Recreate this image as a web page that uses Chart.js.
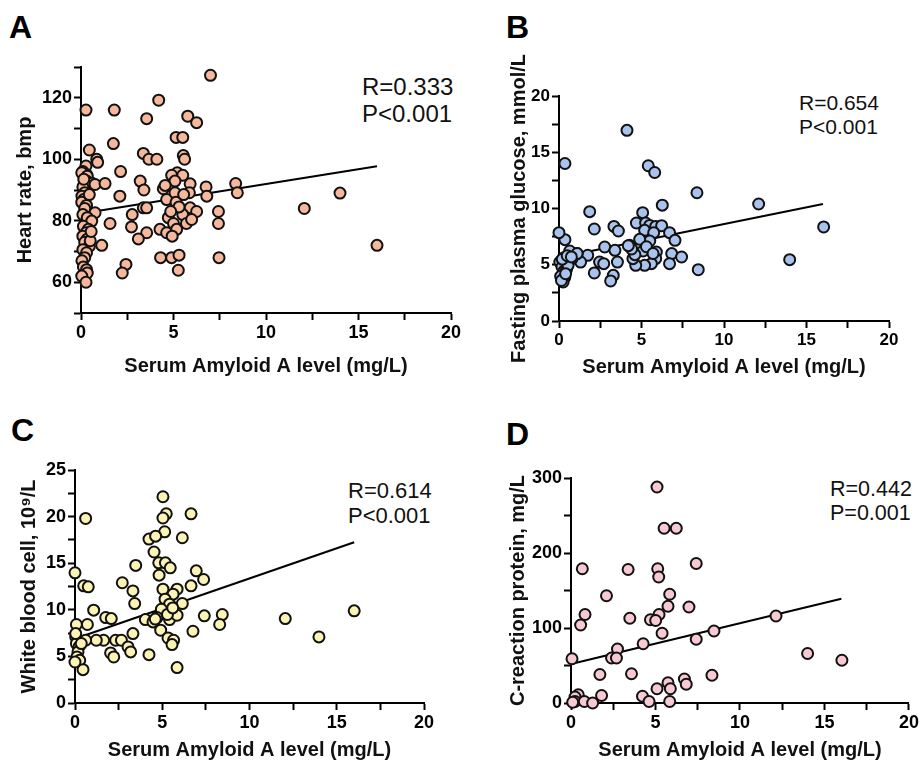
<!DOCTYPE html>
<html>
<head>
<meta charset="utf-8">
<script src="https://cdn.jsdelivr.net/npm/chart.js@4"></script>
<style>
  html, body { margin: 0; padding: 0; background: #fff; }
  body { width: 921px; height: 762px; position: relative; overflow: hidden; font-family: 'Liberation Sans', Arial, sans-serif; }
  .panel { position: absolute; }
  .letter { position: absolute; font-size: 32px; font-weight: bold; line-height: 32px; color: #000; }
  .stat { position: absolute; color: #111; white-space: nowrap; }
</style>
</head>
<body>

<div class="letter" style="left:9px;top:11px">A</div>
<div class="letter" style="left:506px;top:11px">B</div>
<div class="letter" style="left:11px;top:414px">C</div>
<div class="letter" style="left:506px;top:418px">D</div>

<div class="stat" style="left:362px;top:73px;font-size:24px;line-height:27px">R=0.333<br>P&lt;0.001</div>
<div class="stat" style="left:799px;top:91px;font-size:21px;line-height:24px">R=0.654<br>P&lt;0.001</div>
<div class="stat" style="left:348px;top:478px;font-size:22px;line-height:25px">R=0.614<br>P&lt;0.001</div>
<div class="stat" style="left:830px;top:477px;font-size:21.5px;line-height:24px">R=0.442<br>P=0.001</div>

<div class="panel" style="left:0;top:50px"><canvas id="chartA" width="470" height="330"></canvas></div>
<div class="panel" style="left:480px;top:50px"><canvas id="chartB" width="441" height="330"></canvas></div>
<div class="panel" style="left:0;top:450px"><canvas id="chartC" width="470" height="312"></canvas></div>
<div class="panel" style="left:480px;top:450px"><canvas id="chartD" width="441" height="312"></canvas></div>

<script>
// ── data ──
const xLabel = 'Serum Amyloid A level (mg/L)';

// A: heart rate
const saaA = [0.27,0.45,0.85,0.9,0.27,0.1,0.3,0.04,0.34,0.3,0.6,0.76,0.1,0.2,0.05,0.15,0.04,0.3,0.2,0.76,0.1,0.34,0.58,0.13,0.4,0.27,0.1,0.34,0.2,0.45,0.1,0.3,0.2,0.05,0.13,0.3,0.34,0.04,0.27,0.5,0.55,0.15,0.45,
  7.0,4.2,1.8,3.55,5.77,6.25,5.14,5.5,1.75,3.37,3.67,4.1,5.53,5.6,2.14,5.2,4.9,5.5,1.3,3.2,3.4,5.08,5.9,6.76,6.8,8.36,8.45,4.45,4.63,5.08,5.86,2.1,3.37,3.55,5.14,5.9,6.25,7.43,7.43,5.5,5.7,5.98,4.72,5.0,5.17,4.27,4.63,4.93,2.77,2.73,1.57,3.55,3.1,1.12,16,12.07,14,4.3,4.9,5.3,5.26,7.46,2.43,2.23,4.55,5.3,4.85,5.55];
const hrA = [116,103,100,99,97.8,96,95,95.6,94.5,92.9,92.2,91.8,91,89.1,88,86.9,86,85,84,82.6,82,81,79.9,78.2,77.2,76.1,75,74,73,71.7,70.6,69.6,68,67,65,64.1,63,62,60,73.5,76.5,93.5,88.5,
  127.3,119.2,116,113.2,114,111.9,107.1,107.1,105.1,101.9,100,100,101.2,100,96,95.6,94.8,94.8,92.1,92.9,90,92.9,92,91,88,92.1,89.1,90.4,86.9,89.1,89.1,88,84.2,84.2,86,84.2,83,83,79.1,82,79.1,80.4,81,79.1,77.2,77.2,76.1,75,82,78,79.1,76.1,74.1,72,72,84,89,68,68,68.8,63.9,68,65.8,63,91.5,84.5,83,88.5];
const fitXA = [0.2, 16];
const fitYA = [82.5, 97.7];

// B: fasting plasma glucose
const saaB = [4.12,0.36,5.41,5.8,8.36,12.1,16.04,13.98,8.44,6.26,5.07,1.86,2.14,3.33,3.6,4.69,5.25,5.5,5.86,6.22,5.19,5.74,6.7,7.03,5.5,4.89,4.28,2.77,3.39,3.54,5.09,5.9,6.83,7.43,5.86,6.7,5.6,5.19,4.65,4.48,4.6,5.3,2.46,2.71,2.14,3.29,3.13,1.74,1.31,1.09,0.79,0.65,0.36,0.0,0.3,0.05,0.18,0.3,0.1,0.35,0.25,0.45,0.55,0.15,0.4,0.2,0.5,4.4,5.7,4.2,1.1,0.75];
const fpgB = [16.95,14,13.8,13.2,11.4,10.4,8.36,5.45,4.56,10.3,9.63,9.72,8.18,8.41,8,8.71,8.71,8.5,8.41,8.47,8.06,7.85,7.85,7.17,7.11,7.26,6.73,6.58,6.28,5.24,6.22,6.13,5.99,5.69,5.54,5.1,5.1,4.95,4.95,5.54,5.9,6.6,5.24,5.1,4.27,4.06,3.56,5.84,5.24,5.99,5.54,6.22,7.23,7.85,5.63,5.24,4.8,4.44,3.97,3.9,3.47,4.56,4.95,3.6,4.2,5.5,5.8,6.4,6.0,6.7,6.0,5.7];
const fitXB = [0, 16];
const fitYB = [5.65, 10.4];

// C: white blood cell
const saaC = [5.04,0.61,5.23,5.04,6.65,5.14,4.24,4.62,6.15,4.53,3.48,4.8,5.18,5.46,4.82,6.95,7.37,0,0.5,0.76,2.71,3.32,5.04,5.85,6.65,5.62,5.16,5.42,6.15,3.42,1.07,4.95,1.76,2.08,4.03,4.47,4.7,5.42,5.85,7.41,8.44,8.29,6.76,4.91,5.33,5.65,5.56,5.85,4.24,3.32,2.33,2.66,1.64,1.22,3.04,3.19,2.04,2.22,0.71,0.08,0.04,0.08,0.23,0.17,0.11,0.27,0.46,0,0.04,0.61,0.36,12.05,13.98,16,5.3,5.6,4.6];
const wbcC = [22.13,19.8,20.3,19.85,20.3,18.37,17.59,17.9,17.73,16.2,14.76,15.04,15.04,14.5,13.72,14.18,13.25,13.97,12.57,12.46,12.9,12.03,12.21,12.21,12.57,11.68,11.14,10.6,10.67,10.67,9.96,10.06,9.17,9.06,8.95,8.7,9.17,8.95,9.42,9.35,9.49,8.42,7.7,7.81,6.98,6.73,6.27,3.8,5.19,7.45,6.73,6.73,6.73,6.73,6.02,5.48,5.37,4.94,8.42,8.42,7.09,6.38,6.02,5.48,4.94,4.58,3.58,4.4,7.45,6.73,6.38,9.06,7.09,9.89,9.5,10.2,9.0];
const fitXC = [0, 16];
const fitYC = [6.9, 17.25];

// D: C-reaction protein
const saaD = [5.09,5.51,6.23,7.41,0.67,3.38,5.13,5.19,2.1,5.84,5.74,6.98,0.83,5.21,0.57,3.48,4.7,5.01,5.39,8.46,12.13,7.41,4.27,2.75,2.4,2.69,0.06,14.0,16.03,3.58,1.71,8.34,6.71,6.82,5.74,5.88,5.09,1.81,4.23,4.62,5.84,0.43,0.24,0.24,0.79,1.28,0.1];
const crpD = [288,233,233,186,179,178,179,168,143,145,129,128,118,118,104,113,111,110,93,96,116,85,79,72,60,60,59,66,57,39,38,37,32,25,27,19,19,10,9,2,2,11,8,2,2,0,1];
const fitXD = [0, 16];
const fitYD = [52, 139];

const toPts = (xs, ys) => xs.map((x, i) => ({ x, y: ys[i] }));

function makePanel(id, o) {
  const font = { family: "'Liberation Sans', Arial, sans-serif", weight: 'bold' };
  const axisGrid = { drawOnChartArea: false, drawTicks: true, tickLength: 7, tickWidth: 2, tickColor: '#000', color: '#000' };
  return new Chart(document.getElementById(id), {
    type: 'scatter',
    data: {
      datasets: [
        {
          data: toPts(o.xs, o.ys),
          backgroundColor: o.fill,
          borderColor: '#111',
          borderWidth: 2,
          pointRadius: 5.5,
          pointHoverRadius: 5.5,
          clip: false,
          order: 0
        },
        {
          data: toPts(o.fitX, o.fitY),
          showLine: true,
          borderColor: '#000',
          borderWidth: 2,
          pointRadius: 0,
          clip: false,
          order: 1
        }
      ]
    },
    options: {
      responsive: false,
      animation: false,
      devicePixelRatio: 1,
      layout: { padding: { top: o.padTop, right: o.padRight, left: 0, bottom: 0 } },
      plugins: { legend: { display: false }, tooltip: { enabled: false } },
      scales: {
        x: {
          min: 0, max: 20,
          afterFit: s => { s.height = o.xH; },
          grid: axisGrid,
          border: { display: true, color: '#000', width: 2 },
          ticks: {
            stepSize: 2.5, autoSkip: false, maxRotation: 0, padding: 2, color: '#000',
            font: { ...font, size: o.tickSize },
            callback: v => (v % 5 === 0 ? v : '')
          },
          title: { display: true, text: xLabel, color: '#111', font: { ...font, size: 20 }, padding: { top: 0, bottom: o.xTitlePad } }
        },
        y: {
          min: o.yMin, max: o.yMax,
          afterFit: s => { s.width = o.yW; },
          grid: axisGrid,
          border: { display: true, color: '#000', width: 2 },
          ticks: {
            stepSize: o.yStep, autoSkip: false, padding: 2, color: '#000',
            font: { ...font, size: o.tickSize },
            callback: v => (v % o.yLabelEvery === 0 ? v : '')
          },
          title: { display: true, text: o.yTitle, color: '#111', font: { ...font, size: 20 }, padding: { top: o.yTitlePad, bottom: 0 } }
        }
      }
    }
  });
}

makePanel('chartA', {
  xs: saaA, ys: hrA, fitX: fitXA, fitY: fitYA, fill: '#F5B89C', tickSize: 18,
  yMin: 50, yMax: 130, yStep: 10, yLabelEvery: 20, yTitle: 'Heart rate, bmp',
  padTop: 17, padRight: 19, yW: 81, xH: 67, xTitlePad: 2, yTitlePad: 13
});
makePanel('chartB', {
  xs: saaB, ys: fpgB, fitX: fitXB, fitY: fitYB, fill: '#A9C3EC', tickSize: 17,
  yMin: 0, yMax: 20, yStep: 2.5, yLabelEvery: 5, yTitle: 'Fasting plasma glucose, mmol/L',
  padTop: 46, padRight: 32, yW: 79, xH: 59, xTitlePad: 1, yTitlePad: 27
});
makePanel('chartC', {
  xs: saaC, ys: wbcC, fitX: fitXC, fitY: fitYC, fill: '#FBF4B4', tickSize: 18,
  yMin: 0, yMax: 25, yStep: 2.5, yLabelEvery: 5, yTitle: 'White blood cell, 10\u2079/L',
  padTop: 20, padRight: 46, yW: 75, xH: 59, xTitlePad: 0, yTitlePad: 17
});
makePanel('chartD', {
  xs: saaD, ys: crpD, fitX: fitXD, fitY: fitYD, fill: '#F7C9D2', tickSize: 18,
  yMin: 0, yMax: 300, yStep: 50, yLabelEvery: 100, yTitle: 'C-reaction protein, mg/L',
  padTop: 28, padRight: 11, yW: 91, xH: 59, xTitlePad: 0, yTitlePad: 26
});
</script>
</body>
</html>
